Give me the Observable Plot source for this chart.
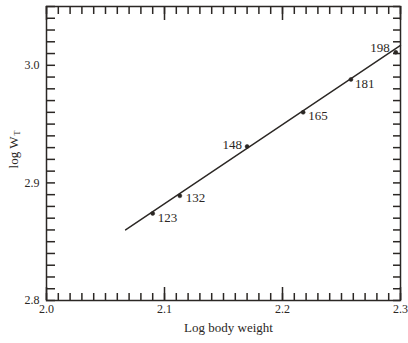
<!DOCTYPE html>
<html>
<head>
<meta charset="utf-8">
<script src="https://cdn.jsdelivr.net/npm/d3@7"></script>
<script src="https://cdn.jsdelivr.net/npm/@observablehq/plot@0.6"></script>
<style>
  html, body { margin: 0; padding: 0; background: #fff; }
  svg { display: block; }
</style>
</head>
<body>
<div id="chart"></div>
<script>
// Data
const bodyWeights = [123, 132, 148, 165, 181, 198];
const logBodyWeight = [2.090, 2.113, 2.170, 2.2175, 2.258, 2.296];
const logWt = [2.874, 2.889, 2.931, 2.960, 2.988, 3.011];
const labelSide = ["right", "right", "left", "right", "right", "left"];
const labelDx = [5, 6, -5, 5, 4, -6];
const labelDy = [4, 2, -2, 3, 4, -5];
const fitX = [2.067, 2.300];
const fitY = [2.860, 3.017];
const xTickLabels = [2.0, 2.1, 2.2, 2.3];
const yTickLabels = [2.8, 2.9, 3.0];
const xMinorTicks = d3.range(200, 231).map(d => d / 100);
const yMinorTicks = d3.range(280, 306).map(d => d / 100);

const points = bodyWeights.map((w, i) => ({
  w, x: logBodyWeight[i], y: logWt[i], side: labelSide[i], dx: labelDx[i], dy: labelDy[i]
}));
const fit = fitX.map((x, i) => ({x, y: fitY[i]}));

const ink = "#2b2724";
const font = "'Liberation Serif', 'DejaVu Serif', serif";

const W = 408, H = 343, mL = 46, mR = 8, mT = 6, mB = 43;
const frameW = W - mL - mR, frameH = H - mT - mB;

const labelMarks = points.map(p =>
  Plot.text([p], {
    x: "x", y: "y", text: d => String(d.w),
    textAnchor: p.side === "left" ? "end" : "start",
    dx: p.dx, dy: p.dy, fontSize: 13, fill: ink
  })
);

// inward ticks drawn as short rules hugging each frame edge
const tw = 1.5;
const tickBottom = (t, len) => Plot.ruleX(t, {x: d => d, insetTop: frameH - len, stroke: ink, strokeWidth: tw});
const tickTop = (t, len) => Plot.ruleX(t, {x: d => d, insetBottom: frameH - len, stroke: ink, strokeWidth: tw});
const tickLeft = (t, len) => Plot.ruleY(t, {y: d => d, insetRight: frameW - len, stroke: ink, strokeWidth: tw});
const tickRight = (t, len) => Plot.ruleY(t, {y: d => d, insetLeft: frameW - len, stroke: ink, strokeWidth: tw});

const chart = Plot.plot({
  width: W,
  height: H,
  marginLeft: mL,
  marginRight: mR,
  marginTop: mT,
  marginBottom: mB,
  style: {fontFamily: font, fontSize: "12px", color: ink, background: "#fff"},
  x: {domain: [2.0, 2.3], axis: null},
  y: {domain: [2.8, 3.05], axis: null},
  marks: [
    tickBottom(xMinorTicks, 7),
    tickTop(xMinorTicks, 8),
    tickBottom(xTickLabels, 13),
    tickTop(xTickLabels, 14),
    tickLeft(yMinorTicks, 9),
    tickRight(yMinorTicks, 7),
    Plot.frame({stroke: ink, strokeWidth: 1.5}),
    Plot.axisX(xTickLabels, {anchor: "bottom", tickSize: 0, tickPadding: 4, tickFormat: ".1f", label: null, fill: ink, fontSize: 12}),
    Plot.axisY(yTickLabels, {anchor: "left", tickSize: 0, tickPadding: 7, tickFormat: ".1f", label: null, fill: ink, fontSize: 12}),
    Plot.line(fit, {x: "x", y: "y", stroke: ink, strokeWidth: 1.4}),
    Plot.dot(points, {x: "x", y: "y", r: 2, fill: ink, stroke: ink, strokeWidth: 0.5}),
    ...labelMarks,
    Plot.text(["Log body weight"], {frameAnchor: "bottom", dx: 5, dy: 31, fontSize: 13, fill: ink}),
    Plot.text(["log W"], {frameAnchor: "left", dx: -33, dy: -17, rotate: -90, textAnchor: "end", fontSize: 13, fill: ink}),
    Plot.text(["T"], {frameAnchor: "left", dx: -29, dy: -18, rotate: -90, textAnchor: "start", fontSize: 8, fill: ink})
  ]
});

document.getElementById("chart").appendChild(chart);
</script>
</body>
</html>
